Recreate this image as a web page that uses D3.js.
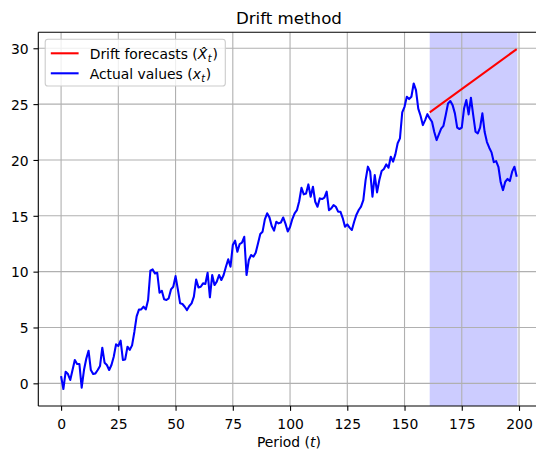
<!DOCTYPE html>
<html>
<head>
<meta charset="utf-8">
<script src="https://cdn.jsdelivr.net/npm/d3@7"></script>
<style>
  html, body { margin: 0; padding: 0; background: #ffffff; }
  svg { display: block; font-family: "DejaVu Sans", sans-serif; }
</style>
</head>
<body>
<svg id="chart" width="536" height="450"></svg>
<script>
// ---------------- data ----------------
const actualValues = [
  0.65, -0.51, 1.04, 0.83, 0.3, 1.2, 2.08, 1.73, 1.73, -0.39,
  1.19, 2.2, 2.92, 1.19, 0.83, 0.89, 1.19, 1.55, 3.19, 1.85,
  1.64, 1.19, 1.64, 2.38, 3.49, 3.34, 3.82, 2.1, 2.14, 3.28,
  3.0, 3.4, 4.6, 6.0, 6.6, 6.62, 6.86, 6.62, 7.45, 10.08,
  10.2, 9.84, 9.9, 8.11, 8.29, 7.52, 7.46, 7.61, 8.41, 8.65,
  9.6, 8.41, 7.16, 7.1, 6.86, 6.56, 6.92, 7.16, 7.76, 9.3,
  8.59, 8.65, 8.95, 8.9, 9.9, 7.7, 9.7, 8.8, 9.1, 9.7,
  9.25, 9.7, 10.44, 11.1, 10.44, 12.38, 12.77, 11.78, 12.47, 12.59,
  13.12, 9.7, 11.04, 11.49, 11.34, 11.7, 12.53, 13.37, 13.58, 14.68,
  15.22, 14.86, 14.08, 13.67, 14.47, 14.32, 14.4, 14.85, 14.3, 13.6,
  14.0, 14.71, 15.22, 15.5, 16.3, 17.51, 16.92, 17.0, 17.81, 16.7,
  17.6, 16.26, 15.81, 16.56, 16.5, 16.62, 17.16, 15.51, 15.67, 15.96,
  15.81, 15.37, 15.37, 14.8, 14.02, 14.23, 13.94, 13.73, 14.47, 15.1,
  15.52, 15.82, 16.41, 18.2, 19.4, 18.95, 16.71, 18.65, 17.1, 18.2,
  19.01, 19.19, 19.6, 19.3, 20.29, 19.85, 20.5, 21.5, 21.93, 24.26,
  24.76, 25.66, 25.45, 25.66, 26.85, 26.25, 24.6, 23.96, 23.12, 23.57,
  24.1, 23.72, 23.42, 22.5, 21.78, 22.3, 22.8, 23.06, 24.02, 25.06,
  25.27, 24.91, 24.17, 22.89, 22.77, 22.89, 24.6, 25.36, 24.08, 25.57,
  24.02, 22.53, 22.38, 22.9, 24.17, 22.5, 21.6, 21.1, 20.68, 19.8,
  19.9, 19.39, 18.0, 17.3, 18.05, 18.3, 18.11, 18.95, 19.39, 18.5
];
const periods = actualValues.map((_, i) => i);
const forecastPeriods = [161, 199];
const forecastValues = [24.26, 29.93];
const testSpan = [161, 199.3];
const xTicks = [0, 25, 50, 75, 100, 125, 150, 175, 200];
const yTicks = [0, 5, 10, 15, 20, 25, 30];
const titleText = "Drift method";

// ---------------- layout ----------------
const svg = d3.select("#chart");
const L = 38.3, R = 539.5, T = 32.3, B = 406;
const fs = 13.9;
const x = d3.scaleLinear().domain([-9.95, 208.95]).range([L, R]);
const y = d3.scaleLinear().domain([-2.03, 31.43]).range([B, T]);

svg.append("defs").append("clipPath").attr("id", "clip")
  .append("rect").attr("x", L).attr("y", T).attr("width", R - L).attr("height", B - T);

// shaded test region
svg.append("rect")
  .attr("x", x(testSpan[0])).attr("y", T)
  .attr("width", x(testSpan[1]) - x(testSpan[0])).attr("height", B - T)
  .attr("fill", "rgb(204,204,255)");

// grid
const grid = svg.append("g").attr("stroke", "#b0b0b0").attr("stroke-width", 1.1);
grid.selectAll("line.v").data(xTicks).join("line")
  .attr("x1", d => x(d)).attr("x2", d => x(d)).attr("y1", T).attr("y2", B);
grid.selectAll("line.h").data(yTicks).join("line")
  .attr("x1", L).attr("x2", R).attr("y1", d => y(d)).attr("y2", d => y(d));

// lines
const plot = svg.append("g").attr("clip-path", "url(#clip)");
const line = d3.line().x(d => x(d[0])).y(d => y(d[1]));
plot.append("path")
  .datum(forecastPeriods.map((t, i) => [t, forecastValues[i]]))
  .attr("d", line).attr("fill", "none").attr("stroke", "#ff0000")
  .attr("stroke-width", 2.08);
plot.append("path")
  .datum(periods.map((t, i) => [t, actualValues[i]]))
  .attr("d", line).attr("fill", "none").attr("stroke", "#0000ff")
  .attr("stroke-width", 2.08).attr("stroke-linejoin", "round");

// axes
const xAxis = svg.append("g").attr("transform", `translate(0,${B})`)
  .call(d3.axisBottom(x).tickValues(xTicks).tickSize(4.86).tickPadding(4.86).tickFormat(d3.format("d")));
const yAxis = svg.append("g").attr("transform", `translate(${L},0)`)
  .call(d3.axisLeft(y).tickValues(yTicks).tickSize(4.86).tickPadding(4.86).tickFormat(d3.format("d")));
[xAxis, yAxis].forEach(a => {
  a.select(".domain").remove();
  a.selectAll(".tick line").attr("stroke", "#000").attr("stroke-width", 1.1);
  a.selectAll(".tick text").attr("fill", "#000").style("font-size", fs + "px")
    .style("font-family", "DejaVu Sans");
});
xAxis.selectAll(".tick text").attr("dy", "0.92em");
yAxis.selectAll(".tick text").attr("dy", "0.38em");

// spines
const sp = svg.append("g").attr("stroke", "#000").attr("stroke-width", 1.1).attr("fill", "none");
sp.append("line").attr("x1", L).attr("x2", L).attr("y1", T).attr("y2", B);
sp.append("line").attr("x1", L).attr("x2", R).attr("y1", B).attr("y2", B);
sp.append("line").attr("x1", L).attr("x2", R).attr("y1", T).attr("y2", T);
sp.append("line").attr("x1", R).attr("x2", R).attr("y1", T).attr("y2", B);

// title
svg.append("text").attr("x", (L + R) / 2).attr("y", 24)
  .attr("text-anchor", "middle").style("font-size", "16.67px").text(titleText);

// x label
const xl = svg.append("text").attr("x", (L + R) / 2).attr("y", 446.6)
  .attr("text-anchor", "middle").style("font-size", fs + "px");
xl.append("tspan").text("Period (");
xl.append("tspan").style("font-style", "italic").text("t");
xl.append("tspan").text(")");

// legend
const lg = svg.append("g");
lg.append("rect").attr("x", 45.2).attr("y", 39.2).attr("height", 46.8).attr("width", 180.1)
  .attr("rx", 2.8).attr("fill", "#fff").attr("fill-opacity", 0.8)
  .attr("stroke", "#cccccc").attr("stroke-width", 1.1);
const rows = [
  { color: "#ff0000", y: 53.3, kind: "f" },
  { color: "#0000ff", y: 73.3, kind: "a" }
];
rows.forEach(r => {
  lg.append("line").attr("x1", 50.8).attr("x2", 78.6).attr("y1", r.y).attr("y2", r.y)
    .attr("stroke", r.color).attr("stroke-width", 2.08);
  const t = lg.append("text").attr("x", 89.7).attr("y", r.y + 6).style("font-size", fs + "px");
  if (r.kind === "f") {
    t.append("tspan").text("Drift forecasts (");
    t.append("tspan").style("font-style", "italic").text("X\u0302");
    t.append("tspan").style("font-style", "italic").style("font-size", "9.7px").attr("dy", 3).attr("dx", 0.5).text("t");
    t.append("tspan").attr("dy", -3).attr("dx", 0.8).text(")");
  } else {
    t.append("tspan").text("Actual values (");
    t.append("tspan").style("font-style", "italic").text("x");
    t.append("tspan").style("font-style", "italic").style("font-size", "9.7px").attr("dy", 3).attr("dx", 0.3).text("t");
    t.append("tspan").attr("dy", -3).attr("dx", 0.8).text(")");
  }
});
</script>
</body>
</html>
